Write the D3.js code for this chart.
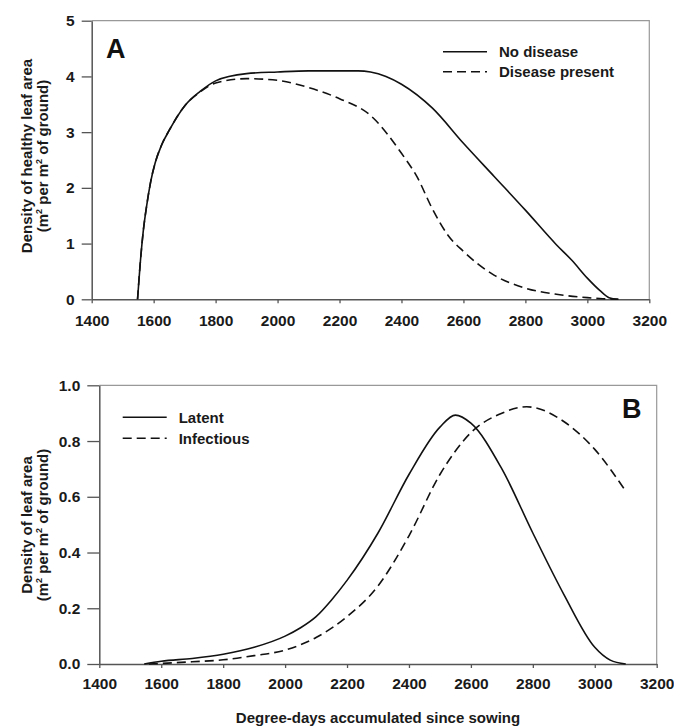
<!DOCTYPE html>
<html>
<head>
<meta charset="utf-8">
<script src="https://cdn.jsdelivr.net/npm/d3@7"></script>
<style>
  body { margin: 0; background: #fff; }
  svg { display: block; font-family: "Liberation Sans", Arial, sans-serif; font-weight: bold; }
</style>
</head>
<body>
<svg id="chart" width="674" height="726"></svg>
<script>
// Panel A - healthy leaf area
var noDiseaseX = [1548, 1556, 1566, 1578, 1590, 1605, 1625, 1650, 1700, 1750, 1800, 1900, 2000, 2100, 2200, 2260, 2300, 2350, 2400, 2500, 2600, 2700, 2800, 2900, 2950, 3000, 3040, 3070, 3100];
var noDiseaseY = [0, 0.6, 1.2, 1.7, 2.1, 2.45, 2.76, 3.03, 3.47, 3.73, 3.92, 4.05, 4.08, 4.10, 4.10, 4.10, 4.08, 4.0, 3.86, 3.43, 2.8, 2.2, 1.6, 0.98, 0.7, 0.38, 0.16, 0.03, 0];
var diseaseX = [1548, 1556, 1566, 1578, 1590, 1605, 1625, 1650, 1700, 1750, 1800, 1900, 2000, 2100, 2200, 2300, 2400, 2450, 2500, 2550, 2600, 2700, 2800, 2900, 3000, 3050, 3100];
var diseaseY = [0, 0.6, 1.2, 1.7, 2.1, 2.45, 2.76, 3.03, 3.47, 3.72, 3.88, 3.96, 3.93, 3.8, 3.6, 3.3, 2.62, 2.2, 1.62, 1.15, 0.86, 0.43, 0.2, 0.09, 0.03, 0.01, 0];

// Panel B - latent and infectious leaf area
var latentX = [1545, 1600, 1700, 1800, 1900, 2000, 2050, 2100, 2150, 2200, 2300, 2400, 2500, 2550, 2600, 2700, 2800, 2900, 3000, 3050, 3100];
var latentY = [0, 0.01, 0.02, 0.035, 0.06, 0.10, 0.13, 0.17, 0.23, 0.30, 0.47, 0.68, 0.85, 0.893, 0.864, 0.70, 0.47, 0.25, 0.06, 0.014, 0];
var infectiousX = [1560, 1600, 1700, 1800, 1900, 2000, 2100, 2200, 2300, 2400, 2500, 2600, 2700, 2780, 2800, 2900, 3000, 3100];
var infectiousY = [0, 0.002, 0.008, 0.015, 0.03, 0.05, 0.095, 0.17, 0.28, 0.46, 0.68, 0.83, 0.90, 0.923, 0.921, 0.87, 0.77, 0.62];

var xTicks = [1400, 1600, 1800, 2000, 2200, 2400, 2600, 2800, 3000, 3200];
var yTicksA = [0, 1, 2, 3, 4, 5];
var yTicksB = [0, 0.2, 0.4, 0.6, 0.8, 1.0];

var svg = d3.select("#chart");
var ink = "#111";

function zip(xs, ys) {
  return xs.map(function(d, i) { return [d, ys[i]]; });
}

function drawPanel(opt) {
  var x = d3.scaleLinear().domain([1400, 3200]).range([opt.left, opt.right]);
  var y = d3.scaleLinear().domain(opt.yDomain).range([opt.bottom, opt.top]);
  var g = svg.append("g");

  // top and right frame
  g.append("path")
    .attr("d", "M" + opt.left + "," + opt.top + "H" + opt.right + "V" + opt.bottom)
    .attr("fill", "none").attr("stroke", "#999").attr("stroke-width", 1.2);

  var xAxis = g.append("g")
    .attr("transform", "translate(0," + opt.bottom + ")")
    .call(d3.axisBottom(x).tickValues(xTicks).tickSize(4).tickPadding(opt.xPad).tickSizeOuter(0).tickFormat(d3.format("d")));
  var yAxis = g.append("g")
    .attr("transform", "translate(" + opt.left + ",0)")
    .call(d3.axisLeft(y).tickValues(opt.yTicks).tickSize(opt.yTick).tickPadding(7).tickSizeOuter(0).tickFormat(opt.yFormat));

  [xAxis, yAxis].forEach(function(a) {
    a.select(".domain").attr("stroke", "#555").attr("stroke-width", 1.5);
    a.selectAll(".tick line").attr("stroke", "#555").attr("stroke-width", 1.3);
    a.selectAll(".tick text").attr("fill", "#1a1a1a").style("font-size", "15.5px").style("font-weight", "bold")
      .style("font-family", "Liberation Sans, Arial, sans-serif");
  });

  var line = d3.line().x(function(d) { return x(d[0]); }).y(function(d) { return y(d[1]); }).curve(d3.curveMonotoneX);

  opt.series.forEach(function(s) {
    g.append("path")
      .datum(zip(s.xs, s.ys))
      .attr("d", line)
      .attr("fill", "none")
      .attr("stroke", ink)
      .attr("stroke-width", 1.6)
      .attr("stroke-dasharray", s.dash ? "9,5" : null);
  });

  // legend
  opt.series.forEach(function(s, i) {
    var ly = opt.legend.y + i * opt.legend.step;
    g.append("line")
      .attr("x1", opt.legend.x).attr("x2", opt.legend.x + 44)
      .attr("y1", ly).attr("y2", ly)
      .attr("stroke", ink).attr("stroke-width", 1.6)
      .attr("stroke-dasharray", s.dash ? "9,5" : null);
    g.append("text")
      .attr("x", opt.legend.x + 56).attr("y", ly + 5.5)
      .attr("fill", "#1a1a1a").style("font-size", "15px")
      .text(s.name);
  });

  // panel letter
  g.append("text")
    .attr("x", opt.letter.x).attr("y", opt.letter.y)
    .attr("fill", "#111").style("font-size", "27px")
    .text(opt.letter.t);

  // y axis title (two lines, rotated)
  var cy = opt.labelY;
  g.append("text")
    .attr("transform", "translate(32," + cy + ") rotate(-90)")
    .attr("text-anchor", "middle").attr("fill", "#1a1a1a").style("font-size", "15px")
    .text(opt.yTitle);
  var t2 = g.append("text")
    .attr("transform", "translate(48," + cy + ") rotate(-90)")
    .attr("text-anchor", "middle").attr("fill", "#1a1a1a").style("font-size", "15px");
  t2.append("tspan").text("(m");
  t2.append("tspan").attr("dy", -6).style("font-size", "9px").text("2");
  t2.append("tspan").attr("dy", 6).text(" per m");
  t2.append("tspan").attr("dy", -6).style("font-size", "9px").text("2");
  t2.append("tspan").attr("dy", 6).text(" of ground)");
}

drawPanel({
  left: 91.7, right: 649.3, top: 20.7, bottom: 299.3,
  yDomain: [0, 5], yTicks: yTicksA, yFormat: d3.format("d"), yTick: 10, xPad: 12,
  series: [
    { name: "No disease", xs: noDiseaseX, ys: noDiseaseY, dash: false },
    { name: "Disease present", xs: diseaseX, ys: diseaseY, dash: true }
  ],
  legend: { x: 443, y: 51.7, step: 20 },
  letter: { x: 106, y: 58, t: "A" },
  yTitle: "Density of healthy leaf area",
  labelY: 156
});

drawPanel({
  left: 99.3, right: 656.7, top: 385.3, bottom: 664,
  yDomain: [0, 1], yTicks: yTicksB, yFormat: d3.format(".1f"), yTick: 12, xPad: 10,
  series: [
    { name: "Latent", xs: latentX, ys: latentY, dash: false },
    { name: "Infectious", xs: infectiousX, ys: infectiousY, dash: true }
  ],
  legend: { x: 122.7, y: 417.3, step: 21 },
  letter: { x: 622, y: 417.7, t: "B" },
  yTitle: "Density of leaf area",
  labelY: 525
});

// shared x axis title
svg.append("text")
  .attr("x", 378).attr("y", 723)
  .attr("text-anchor", "middle").attr("fill", "#1a1a1a").style("font-size", "15px")
  .text("Degree-days accumulated since sowing");
</script>
</body>
</html>
